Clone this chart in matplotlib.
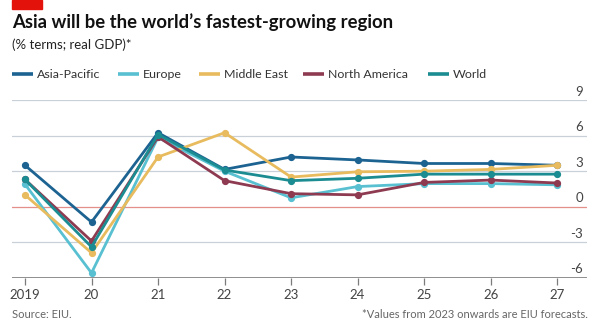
import matplotlib
matplotlib.use("Agg")
import matplotlib.pyplot as plt
import matplotlib.transforms as mtransforms
from matplotlib.patches import Rectangle

plt.rcParams['font.family'] = ['Lato', 'DejaVu Sans']

years = [2019, 2020, 2021, 2022, 2023, 2024, 2025, 2026, 2027]
year_labels = ["2019", "20", "21", "22", "23", "24", "25", "26", "27"]

asia_pacific = [3.5, -1.3, 6.25, 3.15, 4.2, 3.95, 3.65, 3.65, 3.5]
europe = [1.9, -5.6, 5.85, 3.0, 0.75, 1.7, 1.95, 1.95, 1.85]
middle_east = [1.0, -3.9, 4.2, 6.25, 2.5, 2.95, 3.0, 3.15, 3.5]
north_america = [2.3, -2.9, 5.9, 2.2, 1.1, 1.0, 2.05, 2.25, 2.0]
world = [2.3, -3.4, 6.1, 3.1, 2.2, 2.4, 2.75, 2.75, 2.75]

series_names = ["Asia-Pacific", "Europe", "Middle East", "North America", "World"]
series_values = [asia_pacific, europe, middle_east, north_america, world]
series_colors = ["#1c6392", "#58c0d1", "#e8bb5e", "#8e3b52", "#1b8c91"]

y_ticks = [-6, -3, 0, 3, 6, 9]

fig = plt.figure(figsize=(6.0, 3.3), dpi=100)
ax = fig.add_axes([0.02, 0.1585, 0.958, 0.5379])

ax.set_xlim(2018.805, 2027.445)
ax.set_ylim(-6, 9)

for name, vals, col in zip(series_names, series_values, series_colors):
    ax.plot(years, vals, color=col, lw=2.0, marker='o', markersize=4.2,
            solid_joinstyle='round', solid_capstyle='round', zorder=3)

# horizontal gridlines and labels
for t in y_ticks:
    if t == 0:
        ax.axhline(t, color="#e58f8a", lw=0.9, zorder=2)
    elif t == -6:
        ax.axhline(t, color="#7b7b7b", lw=1.2, zorder=4)
    else:
        ax.axhline(t, color="#c9d0d8", lw=0.9, zorder=1)
trans = mtransforms.blended_transform_factory(ax.transAxes, ax.transData)
for t in y_ticks:
    ax.text(0.993, t + 0.2, str(t), transform=trans, ha='right', va='bottom',
            fontsize=9.5, color="#444444")

ax.set_yticks([])
ax.set_xticks(years)
ax.set_xticklabels(year_labels, fontsize=9.5, color="#444444")
ax.tick_params(axis='x', length=5, width=0.9, color="#7b7b7b", pad=3)
for s in ax.spines.values():
    s.set_visible(False)

# red tag
fig.patches.append(Rectangle((12 / 600, 1 - 9 / 330), 30 / 600, 9 / 330,
                             transform=fig.transFigure, color="#e3120b"))

fig.text(12 / 600, 1 - 22 / 330, "Asia will be the world\u2019s fastest-growing region",
         fontsize=13.3, fontweight='bold', color="#111111", va='center', ha='left')
fig.text(12 / 600, 1 - 45 / 330, "(% terms; real GDP)*",
         fontsize=9.5, color="#222222", va='center', ha='left')

# legend
legend_x = [12, 118, 199, 303, 428]
for name, col, lx in zip(series_names, series_colors, legend_x):
    y = 1 - 74 / 330
    fig.lines.append(plt.Line2D([lx / 600, (lx + 21) / 600], [y, y],
                                transform=fig.transFigure, color=col, lw=2.6,
                                solid_capstyle='butt'))
    fig.text((lx + 25) / 600, y, name, fontsize=8.9, color="#333333",
             va='center', ha='left')

fig.text(12 / 600, 1 - 314 / 330, "Source: EIU.", fontsize=8, color="#666666",
         va='center', ha='left')
fig.text(588 / 600, 1 - 314 / 330, "*Values from 2023 onwards are EIU forecasts.",
         fontsize=8, color="#666666", va='center', ha='right')

fig.savefig("out.png", dpi=100, facecolor="white")
